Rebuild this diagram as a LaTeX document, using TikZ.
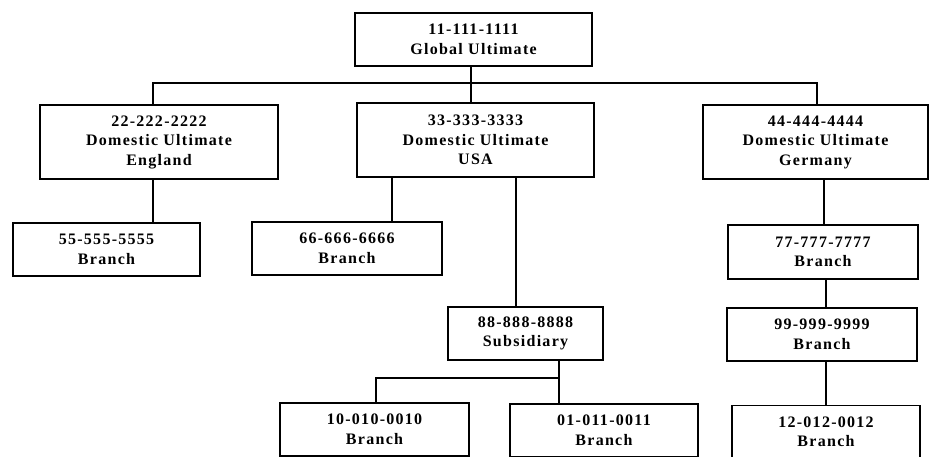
\documentclass[tikz,border=0pt]{standalone}
\usepackage{fontspec}
\newfontfamily\unitfont{Liberation Serif}[LetterSpace=8]
\usetikzlibrary{calc}

\begin{document}
\begin{tikzpicture}[x=1pt, y=-1pt,
    unit/.style={draw, line width=1.1pt, inner sep=0pt, align=center,
        font=\unitfont\bfseries\fontsize{16}{19.5}\selectfont},
    link/.style={line width=1.1pt}]

% --- MACRO: ONE ORGANISATION BOX ---
% #1: node name
% #2: centre (x,y)
% #3: width
% #4: height
% #5: text
\newcommand{\unitBox}[5]{
    \node[unit, minimum width=#3pt, minimum height=#4pt] (#1) at (#2) {#5};
}

% frame of the page
\useasboundingbox (0,0) rectangle (930,457);
\clip (0,0) rectangle (930,457);

% --- LEVEL 0 ---
\unitBox{g}{473.5,39.5}{237}{53}{11-111-1111\\Global Ultimate}

% --- LEVEL 1 ---
\unitBox{en}{159,142}{238}{74}{22-222-2222\\Domestic Ultimate\\England}
\unitBox{us}{475.5,140}{237}{74}{33-333-3333\\Domestic Ultimate\\USA}
\unitBox{de}{815.5,142}{225}{74}{44-444-4444\\Domestic Ultimate\\Germany}

% --- LEVEL 2 ---
\unitBox{b55}{106.5,249.5}{187}{53}{55-555-5555\\Branch}
\unitBox{b66}{347,248.5}{190}{53}{66-666-6666\\Branch}
\unitBox{b77}{823,252}{190}{54}{77-777-7777\\Branch}
\unitBox{s88}{525.5,333.5}{155}{53}{88-888-8888\\Subsidiary}
\unitBox{b99}{822,334.5}{190}{53}{99-999-9999\\Branch}

% --- LEVEL 3 (cut by the page) ---
\unitBox{b10}{374.5,429.5}{189}{53}{10-010-0010\\Branch}
\unitBox{b01}{604,430.5}{188}{53}{01-011-0011\\Branch}
\unitBox{b12}{826,432}{188}{53}{12-012-0012\\Branch}

% --- CONNECTORS ---
\coordinate (busL) at (153,83);
\coordinate (busM) at (471,83);
\coordinate (busR) at (817,83);
\coordinate (usA) at (392,0);
\coordinate (usB) at (516,0);
\coordinate (subR) at (559,378);
\coordinate (subL) at (376,378);
\coordinate (deX) at (824,0);
\coordinate (brX) at (826,0);

\draw[link] (g.south -| busM) -- (us.north -| busM);
\draw[link] (en.north -| busL) -- (busL) -- (busR) -- (de.north -| busR);
\draw[link] (en.south -| busL) -- (b55.north -| busL);

\draw[link] (us.south -| usA) -- (b66.north -| usA);
\draw[link] (us.south -| usB) -- (s88.north -| usB);
\draw[link] (s88.south -| subR) -- (subR) -- (subL) -- (b10.north -| subL);
\draw[link] (subR) -- (b01.north -| subR);

\draw[link] (de.south -| deX) -- (b77.north -| deX);
\draw[link] (b77.south -| brX) -- (b99.north -| brX);
\draw[link] (b99.south -| brX) -- (b12.north -| brX);

\end{tikzpicture}
\end{document}
